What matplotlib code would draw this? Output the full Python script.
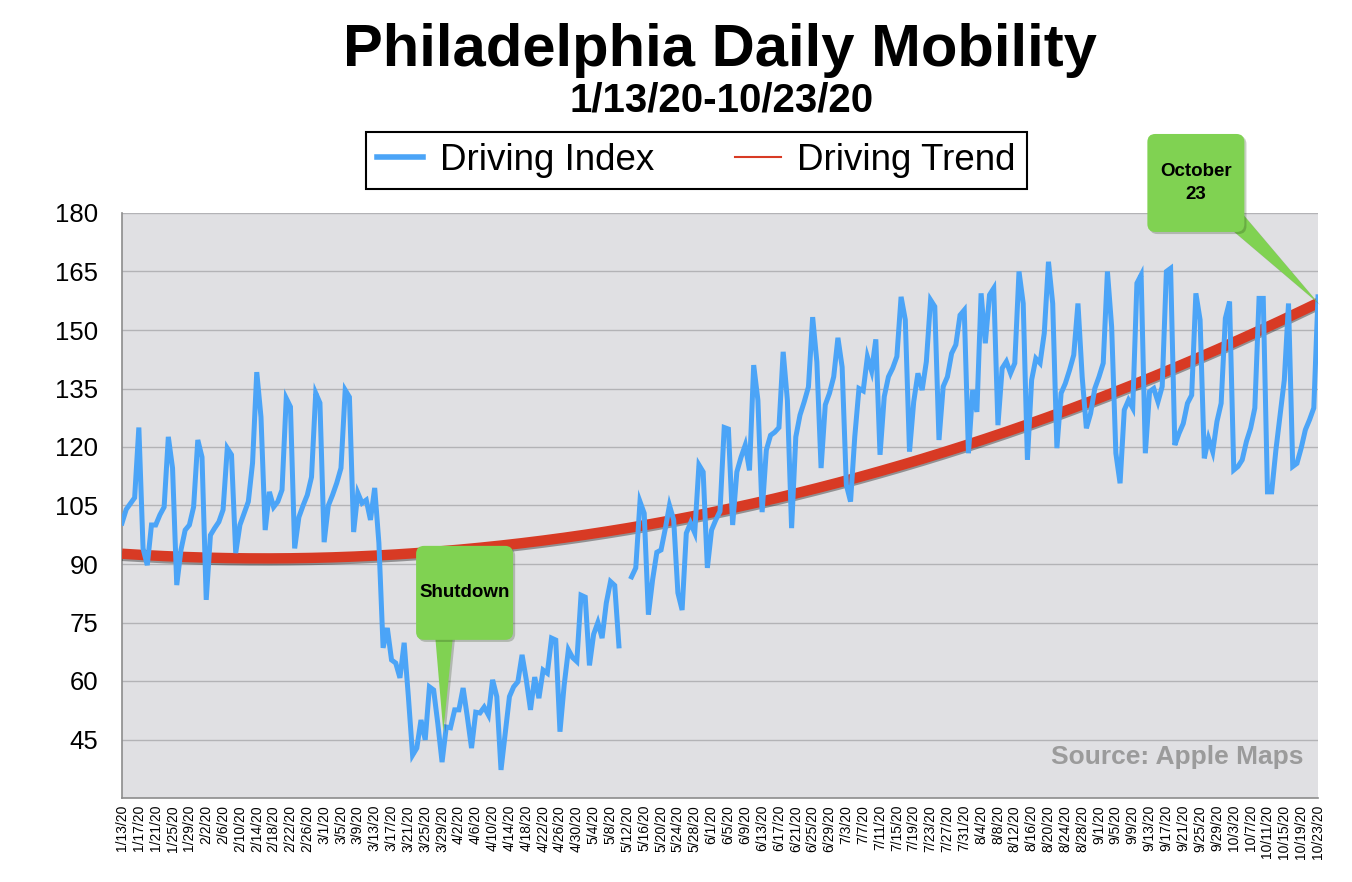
import numpy as np
import pandas as pd
import matplotlib
matplotlib.use("Agg")
import matplotlib.pyplot as plt
import matplotlib.patheffects as pe
from matplotlib.lines import Line2D
from matplotlib.patches import FancyBboxPatch, Polygon
from matplotlib.transforms import ScaledTranslation

# ---- data ----
START_DATE = "2020-01-13"
END_DATE = "2020-10-23"

# one value per day, NaN where Apple has no data (5/11, 5/12)
DRIVING_INDEX = [
    100.5, 104, 105.5, 107, 125, 94, 89.7,
    100, 100, 102.6, 104.6, 122.6, 114.6, 84.6,
    93.6, 98.7, 100, 104.6, 121.8, 117.4, 80.8,
    97.4, 99.2, 100.8, 103.9, 119.7, 118, 92.8,
    100, 103, 106, 115.9, 139.2, 127.7, 98.7,
    108.5, 104.6, 106, 109, 132.5, 130.3, 94,
    102, 105, 107.7, 112.3, 133.8, 131.3, 95.6,
    105, 107.7, 110.8, 114.6, 134.6, 132.8, 98.2,
    108.2, 105.6, 106.4, 101.3, 109.5, 95.4, 68.5,
    73.6, 65.4, 64.6, 60.8, 69.8, 56, 41,
    42.8, 50, 44.9, 58.5, 57.7, 49, 39.2,
    48.2, 48, 52.6, 52.6, 58.2, 50.8, 42.8,
    52, 51.8, 53.3, 51.3, 60.3, 56, 37.2,
    46.7, 56, 58.5, 59.8, 66.7, 60.3, 52.6,
    61, 55.6, 62.8, 62, 71, 70.5, 47,
    59, 68, 66, 65, 82, 81.5, 64,
    72, 75, 71, 80, 85.5, 84.5, 69,
    np.nan, np.nan, 86.7, 89, 106, 103, 77,
    86, 93, 93.6, 99, 105, 101.3, 82.6,
    78.2, 97.9, 100.5, 98, 115.4, 113.6, 89,
    98.7, 101.3, 103.5, 125, 124.6, 100, 113.6,
    117.4, 120.5, 114, 141, 132, 103.3, 119.2,
    123, 123.8, 125, 144.4, 132, 99.2, 122.6,
    128.2, 131.6, 135.4, 153.3, 141.8, 114.6, 130.8,
    133.8, 138, 148, 140.5, 110.3, 106, 122.6,
    135, 134.4, 143.1, 139.5, 147.6, 118, 132.9,
    138, 140.2, 143.2, 158.5, 152.6, 118.8, 131.6,
    138.9, 134.6, 141.9, 157.7, 156, 121.8, 135.5,
    138, 144, 146.2, 153.8, 155.1, 118.4, 134.6,
    129, 159.4, 146.6, 159, 160.7, 125.6, 140.2,
    141.9, 138.9, 141.5, 165, 156.8, 116.7, 137.2,
    142.7, 141.5, 149.2, 167.5, 156.8, 119.7, 133.8,
    136.3, 139.7, 143.6, 156.8, 138, 124.8, 128.6,
    135, 138, 141.5, 165, 150.8, 118.4, 110.7,
    129.5, 132, 130, 162, 164.1, 118.4, 134.2,
    135, 131.6, 135.5, 165, 165.8, 120.5, 123.5,
    126, 131.2, 133.3, 159.4, 152.6, 117.1, 122.2,
    118.8, 126.5, 131.2, 153, 157.3, 114.1, 115,
    116.7, 121.4, 124.8, 130, 158.1, 158.1, 108.5,
    108.5, 119.2, 128.2, 137.2, 156.8, 115, 115.8,
    119.7, 124.4, 127, 130, 158.5,
]

Y_TICKS = [45, 60, 75, 90, 105, 120, 135, 150, 165, 180]
LABEL_EVERY = 4  # days between x tick labels

BLUE = "#4BA4F7"
RED = "#D83A24"
GREEN = "#80D252"
PLOT_BG = "#E0E0E3"
GRID = "#B3B3B6"

plt.rcParams["font.family"] = ["Liberation Sans", "DejaVu Sans"]


def add_callout(fig, ax, center, size, base, tip, text, fontsize):
    """Green speech bubble: rounded box (inches around a data point) + pointer to tip."""
    w, h = size
    trans = fig.dpi_scale_trans + ScaledTranslation(center[0], center[1], ax.transData)
    cx, cy = ax.transData.transform(center)
    tx, ty = ax.transData.transform(tip)
    tip_in = ((tx - cx) / fig.dpi, (ty - cy) / fig.dpi)
    shadow = [pe.SimplePatchShadow(offset=(1.5, -1.5), alpha=0.25), pe.Normal()]

    pointer = Polygon([base[0], base[1], tip_in], closed=True, transform=trans,
                      fc=GREEN, ec="none", clip_on=False, zorder=5, path_effects=shadow)
    box = FancyBboxPatch((-w / 2, -h / 2), w, h,
                         boxstyle="round,pad=0,rounding_size=0.08", transform=trans,
                         fc=GREEN, ec="none", clip_on=False, zorder=6, path_effects=shadow)
    ax.add_patch(pointer)
    ax.add_patch(box)
    ax.text(center[0], center[1], text, ha="center", va="center", fontsize=fontsize,
            fontweight="bold", zorder=7, linespacing=1.5)


def main():
    dates = pd.date_range(START_DATE, END_DATE, freq="D")
    values = np.array(DRIVING_INDEX, dtype=float)
    days = np.arange(len(dates))

    # quadratic trend, same as the spreadsheet trendline
    ok = ~np.isnan(values)
    trend = np.polyval(np.polyfit(days[ok], values[ok], 2), days)

    fig = plt.figure(figsize=(13.52, 8.82), dpi=100)
    ax = fig.add_axes([122 / 1352, 1 - 798 / 882, 1196 / 1352, 585 / 882])
    ax.set_facecolor(PLOT_BG)

    ax.plot(days, trend, color=RED, lw=7.5, solid_capstyle="butt", zorder=3,
            path_effects=[pe.SimpleLineShadow(offset=(0, -1.5), shadow_color="k", alpha=0.35),
                          pe.Normal()])
    ax.plot(days, values, color=BLUE, lw=3.6, solid_joinstyle="miter", zorder=4)

    ax.set_xlim(0, len(days) - 1)
    ax.set_ylim(30, 180)
    ax.set_yticks(Y_TICKS)
    ax.yaxis.grid(True, color=GRID, lw=1)
    ax.set_axisbelow(True)

    tick_pos = days[::LABEL_EVERY]
    ax.set_xticks(tick_pos)
    ax.set_xticklabels([f"{d.month}/{d.day}/{d.year % 100}" for d in dates[::LABEL_EVERY]],
                       rotation=90, fontsize=10)
    ax.tick_params(axis="x", length=0, pad=5)
    ax.tick_params(axis="y", length=0, pad=17, labelsize=18.5)

    for side in ("top", "right"):
        ax.spines[side].set_visible(False)
    for side in ("left", "bottom"):
        ax.spines[side].set_color("#8C8C8C")
        ax.spines[side].set_linewidth(1.2)

    ax.text(0.9875, 0.070, "Source: Apple Maps", transform=ax.transAxes, ha="right",
            va="center", fontsize=19, fontweight="bold", color="#9B9B9B", zorder=6)

    add_callout(fig, ax, center=(81.35, 82.6), size=(0.97, 0.94),
                base=[(-0.295, -0.42), (-0.115, -0.42)], tip=(76.3, 47),
                text="Shutdown", fontsize=13.5)
    add_callout(fig, ax, center=(255.0, 187.7), size=(0.97, 0.98),
                base=[(0.327, -0.44), (0.46, -0.302)], tip=(days[-1], trend[-1]),
                text="October\n23", fontsize=13.5)

    fig.text(720 / 1352, 1 - 66 / 882, "Philadelphia Daily Mobility", ha="center",
             va="baseline", fontsize=43, fontweight="bold")
    fig.text(722 / 1352, 1 - 112 / 882, "1/13/20-10/23/20", ha="center",
             va="baseline", fontsize=29, fontweight="bold")

    handles = [Line2D([], [], color=BLUE, lw=4), Line2D([], [], color=RED, lw=1.5)]
    leg = fig.legend(handles, ["Driving Index", "Driving Trend"], loc="center",
                     bbox_to_anchor=(696.5 / 1352, 1 - 160.5 / 882), ncol=2, fontsize=26.5,
                     frameon=True, fancybox=False, edgecolor="black", framealpha=1,
                     handlelength=1.25, handletextpad=0.45, columnspacing=2.2,
                     borderpad=0.3)
    leg.get_frame().set_linewidth(1.5)

    fig.savefig("out.png", dpi=100, facecolor="white")


if __name__ == "__main__":
    main()
